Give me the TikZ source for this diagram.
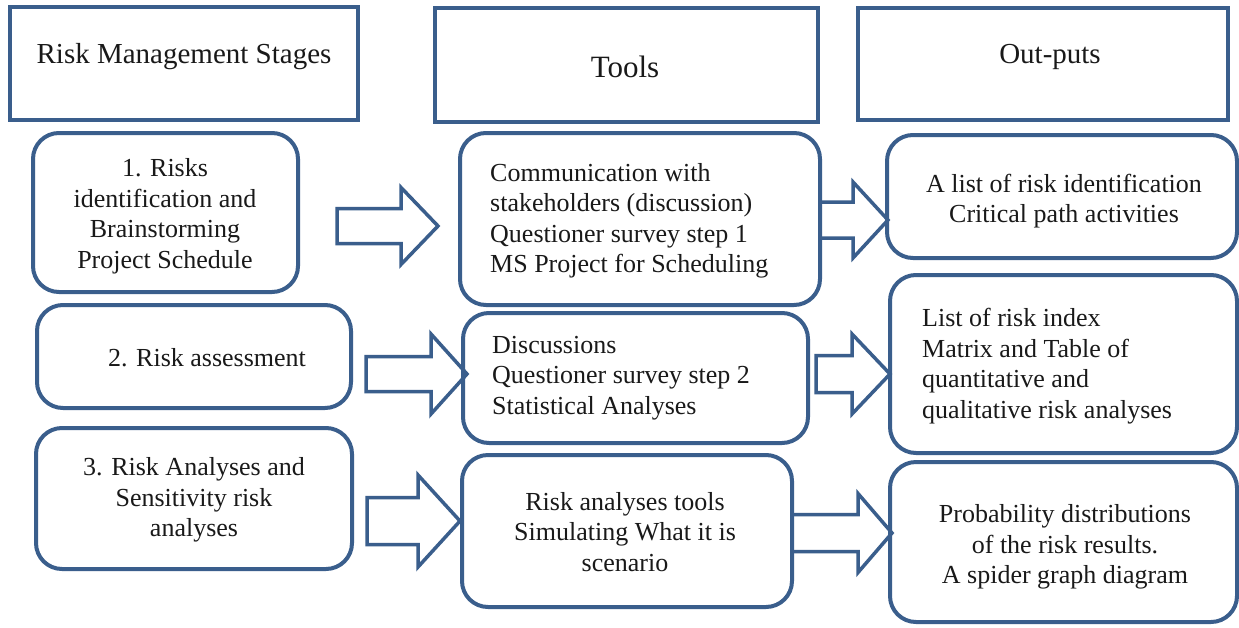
\documentclass[tikz,border=0pt]{standalone}
\usepackage{fontspec}
\setmainfont{Liberation Serif}
\definecolor{bblue}{RGB}{58,94,140}
\definecolor{tgray}{RGB}{25,25,25}
\newcommand\blockarr[6]{% start x, tip x, y, shaft half, head half, head length
  \draw[arr] (#1,#3-#4) -- (#2-#6,#3-#4) -- (#2-#6,#3-#5) -- (#2,#3) -- (#2-#6,#3+#5) -- (#2-#6,#3+#4) -- (#1,#3+#4) -- cycle;}
\begin{document}
\begin{tikzpicture}[x=1pt,y=-1pt,
  hbox/.style={draw=bblue, line width=4.5pt, inner sep=0pt},
  rbox/.style={draw=bblue, line width=4pt, rounded corners=26pt, inner sep=0pt},
  arr/.style={draw=bblue, line width=3.5pt, fill=white, line join=miter},
  txt/.style={font=\fontsize{26}{30.5}\selectfont, text=tgray, align=center, inner sep=0pt},
  txtl/.style={txt, align=left, anchor=west},
  htxt/.style={font=\fontsize{29}{34}\selectfont, text=tgray, inner sep=0pt}]
\useasboundingbox (0,0) rectangle (1239,627);
\fill[white] (0,0) rectangle (1239,627);
% block arrows (drawn first, boxes on top)
\blockarr{337}{438}{226}{17.5}{38.5}{37}
\blockarr{366}{467}{374}{17.5}{40}{36}
\blockarr{367}{460}{521}{23.5}{46}{42}
\blockarr{820}{888}{220}{18}{38}{35}
\blockarr{816}{890}{374}{18.5}{40}{38}
\blockarr{792}{892}{533}{18.5}{39.5}{34}
% header boxes
\node[hbox, minimum width=348pt, minimum height=113pt] (H1) at (184,63.5) {};
\node[hbox, minimum width=383pt, minimum height=114pt] (H2) at (626.5,65) {};
\node[hbox, minimum width=370pt, minimum height=112pt] (H3) at (1043,64) {};
% stage boxes
\node[rbox, minimum width=265pt, minimum height=159pt] (B1) at (165.5,212.5) {};
\node[rbox, minimum width=314pt, minimum height=103pt] (B2) at (194,356.5) {};
\node[rbox, minimum width=316pt, minimum height=141pt] (B3) at (194,498.5) {};
% tool boxes
\node[rbox, minimum width=360pt, minimum height=172pt] (T1) at (640,219) {};
\node[rbox, minimum width=345pt, minimum height=130pt] (T2) at (635.5,378) {};
\node[rbox, minimum width=330pt, minimum height=152pt] (T3) at (627,531) {};
% output boxes
\node[rbox, minimum width=350pt, minimum height=123pt] (O1) at (1062,196.5) {};
\node[rbox, minimum width=347pt, minimum height=178pt] (O2) at (1063.5,364) {};
\node[rbox, minimum width=347pt, minimum height=160pt] (O3) at (1063.5,542) {};
% texts
\node[htxt] (h1t) at (184,57) {Risk Management Stages};
\node[htxt, font=\fontsize{31}{36}\selectfont] (h2t) at (625,67) {Tools};
\node[htxt] (h3t) at (1050,57) {Out-puts};
\node[txt] (b1t) at (165,216) {1. Risks\\identification and\\Brainstorming\\Project Schedule};
\node[txt] (b2t) at (207,358) {2. Risk assessment};
\node[txt] (b3t) at (194,500) {3. Risk Analyses and\\Sensitivity risk\\analyses};
\node[txtl] (t1t) at (490,221) {Communication with\\stakeholders (discussion)\\Questioner survey step 1\\MS Project for Scheduling};
\node[txtl] (t2t) at (492,378) {Discussions\\Questioner survey step 2\\Statistical Analyses};
\node[txt] (t3t) at (625,532) {Risk analyses tools\\Simulating What it is\\scenario};
\node[txt] (o1t) at (1064,201) {A list of risk identification\\Critical path activities};
\node[txtl] (o2t) at (922,366) {List of risk index\\Matrix and Table of\\quantitative and\\qualitative risk analyses};
\node[txt] (o3t) at (1065,547) {Probability distributions\\of the risk results.\\A spider graph diagram};
\end{tikzpicture}
\end{document}
